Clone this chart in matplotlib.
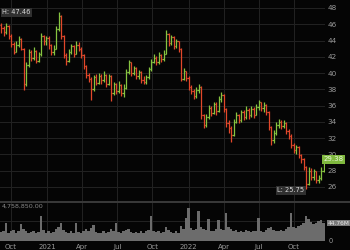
import matplotlib
matplotlib.use("Agg")
import matplotlib.pyplot as plt
import numpy as np

# ---------------- data ----------------
first_open = 45.9
close = [45.5, 45.0, 45.8, 44.6, 43.6, 42.6, 43.5, 44.2, 43.0, 38.6,
         41.0, 42.6, 41.8, 42.7, 41.5, 42.3, 44.6, 43.9, 44.3, 43.4,
         42.6, 43.0, 45.4, 47.0, 44.6, 42.2, 41.5, 42.6, 43.3, 42.4,
         43.5, 43.0, 42.2, 40.9, 39.8, 39.3, 38.0, 39.5, 38.8, 39.6,
         39.1, 39.8, 38.7, 39.6, 37.5, 38.6, 37.8, 38.5, 37.6, 38.2,
         40.1, 41.3, 40.0, 40.6, 39.6, 40.1, 39.2, 38.9, 39.5, 40.5,
         41.4, 41.9, 41.3, 42.2, 41.7, 42.4, 44.8, 43.7, 44.4, 43.3,
         43.9, 43.0, 39.3, 40.2, 39.4, 38.3, 37.8, 37.2, 37.9, 38.3,
         34.8, 33.6, 34.6, 35.7, 35.1, 36.2, 35.3, 36.8, 37.3, 35.6,
         33.8, 33.2, 32.4, 34.0, 34.8, 34.2, 35.2, 34.6, 35.5, 34.8,
         35.6, 34.9, 35.8, 36.4, 35.7, 36.1, 35.2, 33.4, 31.8, 32.6,
         33.6, 34.0, 33.5, 33.9, 32.9, 32.3, 31.2, 30.6, 30.9, 29.9,
         29.4, 28.5, 26.4, 28.0, 27.2, 27.9, 26.9, 27.1, 28.0, 29.38]
high = [46.1, 45.8, 46.2, 45.9, 44.8, 43.8, 43.9, 44.6, 44.3, 43.1,
        41.3, 43.0, 42.8, 43.2, 42.8, 42.6, 44.9, 44.7, 44.6, 44.5,
        43.6, 43.4, 45.8, 47.46, 47.1, 44.7, 42.5, 42.9, 43.6, 43.5,
        43.9, 43.8, 43.2, 42.3, 41.0, 40.0, 39.5, 39.8, 39.9, 40.0,
        39.9, 40.2, 39.9, 39.9, 39.7, 38.9, 38.8, 39.0, 38.7, 38.6,
        40.5, 41.6, 41.4, 40.9, 40.7, 40.4, 40.2, 39.6, 39.8, 40.8,
        41.7, 42.3, 42.1, 42.6, 42.4, 42.8, 45.3, 44.9, 44.7, 44.5,
        44.2, 44.0, 43.1, 40.6, 40.3, 39.6, 38.5, 38.0, 38.3, 38.6,
        38.4, 35.0, 35.0, 36.1, 35.9, 36.5, 36.4, 37.2, 37.7, 37.4,
        35.7, 34.2, 33.5, 34.4, 35.2, 35.0, 35.5, 35.4, 35.9, 35.7,
        36.0, 35.8, 36.2, 36.7, 36.5, 36.4, 36.2, 35.3, 33.5, 33.0,
        34.0, 34.4, 34.2, 34.2, 34.0, 33.1, 32.5, 31.4, 31.2, 31.0,
        30.1, 29.5, 28.6, 28.4, 28.3, 28.2, 28.0, 27.5, 28.4, 29.6]
low = [44.9, 44.6, 44.8, 44.2, 43.2, 42.3, 42.6, 43.2, 42.8, 37.9,
       38.4, 40.8, 41.5, 41.6, 41.2, 41.3, 42.1, 43.5, 43.4, 43.0,
       42.2, 42.2, 42.9, 45.2, 44.2, 41.8, 41.0, 41.3, 42.4, 42.0,
       42.3, 42.7, 41.8, 40.5, 39.4, 38.9, 36.7, 37.8, 38.5, 38.6,
       38.7, 38.9, 38.3, 38.5, 36.6, 37.3, 37.4, 37.5, 37.2, 37.1,
       38.0, 39.9, 39.6, 39.8, 39.3, 39.3, 38.8, 38.6, 38.7, 39.3,
       40.3, 41.2, 41.0, 41.1, 41.3, 41.5, 42.3, 43.3, 43.5, 43.0,
       43.1, 42.6, 39.0, 39.1, 39.0, 37.9, 37.4, 36.8, 36.9, 37.5,
       34.4, 33.2, 33.4, 34.4, 34.7, 35.0, 34.9, 35.2, 36.5, 35.2,
       33.4, 32.6, 31.5, 32.2, 33.8, 33.9, 34.0, 34.2, 34.4, 34.4,
       34.6, 34.5, 34.8, 35.5, 35.3, 35.2, 34.9, 33.0, 31.2, 31.4,
       32.4, 33.3, 33.1, 33.2, 32.5, 31.9, 30.8, 30.2, 30.0, 29.5,
       28.9, 28.1, 25.75, 26.2, 26.9, 26.8, 26.5, 26.5, 26.9, 27.8]
volume_m = [22, 25, 44, 20, 24, 27, 21, 26, 42, 30,
            24, 20, 23, 26, 19, 22, 62, 27, 21, 24,
            20, 23, 30, 34, 45, 28, 22, 19, 25, 21,
            44, 23, 20, 26, 30, 24, 33, 40, 22, 19,
            21, 25, 20, 23, 29, 24, 45, 22, 20, 24,
            27, 30, 22, 19, 23, 21, 25, 20, 24, 28,
            62, 26, 22, 24, 20, 23, 35, 27, 22, 21,
            24, 20, 38, 30, 57, 82, 33, 28, 31, 74,
            36, 30, 28, 55, 26, 24, 30, 52, 29, 27,
            70, 34, 30, 25, 27, 23, 26, 22, 28, 24,
            23, 26, 25, 57, 24, 22, 27, 33, 35, 28,
            26, 24, 28, 25, 30, 34, 70, 36, 32, 38,
            40, 45, 62, 55, 48, 42, 46, 50, 52, 44.76]
price_ticks = [26, 28, 30, 32, 34, 36, 38, 40, 42, 44, 46, 48]
time_tick_pos = [4, 18.5, 32.5, 46.5, 60.5, 75, 89, 103, 117]
time_tick_labels = ["Oct", "2021", "Apr", "Jul", "Oct", "2022", "Apr", "Jul", "Oct"]
vol_header = "4,758,850.00"

# ---------------- style ----------------
BG = "#050505"
GRID = "#222222"
TXT = "#9a9a9a"
UP = "#86c440"
DOWN = "#e2472a"

W, H = 350, 250
fig = plt.figure(figsize=(3.5, 2.5), dpi=100, facecolor=BG)

def px_axes(left, top, right, bottom):
    return fig.add_axes([left / W, 1 - bottom / H, (right - left) / W, (bottom - top) / H])

ax = px_axes(0, 0, 325, 201)
axv = px_axes(0, 203, 325, 241)
for a in (ax, axv):
    a.set_facecolor(BG)
    for s in a.spines.values():
        s.set_visible(False)

n = len(close)
x = np.arange(n)
opens = [first_open] + close[:-1]
cols = [UP if c >= o else DOWN for o, c in zip(opens, close)]

ax.vlines(x, low, high, colors=cols, linewidth=0.9)
ax.hlines(opens, x - 0.45, x, colors=cols, linewidth=0.9)
ax.hlines(close, x, x + 0.45, colors=cols, linewidth=0.9)

ax.set_xlim(-0.4, n - 0.4)
ax.set_ylim(24.27, 48.98)
ax.set_yticks(price_ticks)
ax.yaxis.tick_right()
ax.tick_params(axis="y", length=0, pad=2, labelsize=5.2, labelcolor=TXT)
ax.set_xticks(time_tick_pos)
ax.tick_params(axis="x", length=0, labelbottom=False)
ax.grid(True, color=GRID, linewidth=0.7)
ax.set_axisbelow(True)

# high / low / last labels
imin = int(np.argmin(low))
ax.text(2 / 325, max(high), f"H: {max(high):.2f}", transform=ax.get_yaxis_transform(),
        ha="left", va="center", fontsize=4.8, color="#d8d8d8",
        bbox=dict(boxstyle="square,pad=0.2", fc="#303030", ec="none"))
ax.text(imin - 0.6, min(low) - 0.15, f"L: {min(low):.2f}", ha="right", va="center",
        fontsize=4.8, color="#d8d8d8",
        bbox=dict(boxstyle="square,pad=0.2", fc="#303030", ec="none"))
ax.text(0.995, close[-1], f"{close[-1]:.2f}", transform=ax.get_yaxis_transform(),
        ha="left", va="center", fontsize=5, color="#eaf6dc", clip_on=False,
        bbox=dict(boxstyle="square,pad=0.2", fc="#7fb83e", ec="none"))

# volume pane
axv.bar(x, volume_m, width=1.0, color="#6c6c6c", linewidth=0)
axv.set_xlim(-0.4, n - 0.4)
axv.set_ylim(0, 95)
axv.set_yticks([50])
axv.tick_params(axis="y", length=0, labelleft=False)
axv.set_xticks(time_tick_pos)
axv.set_xticklabels(time_tick_labels)
axv.tick_params(axis="x", length=0, pad=2.5, labelsize=5, labelcolor=TXT)
axv.grid(True, color=GRID, linewidth=0.7)
axv.set_axisbelow(True)
axv.text(1.012, 0, "0", transform=axv.get_yaxis_transform(), ha="left", va="center",
         fontsize=4.8, color=TXT, clip_on=False)
axv.text(1.008, volume_m[-1], f"{volume_m[-1]:.2f}M", transform=axv.get_yaxis_transform(),
         ha="left", va="center", fontsize=4.2, color="#e8e8e8", clip_on=False,
         bbox=dict(boxstyle="square,pad=0.15", fc="#7a7a7a", ec="none"))

# separator line and volume header
fig.add_artist(plt.Line2D([0, 1], [1 - 202 / H, 1 - 202 / H], color="#3a3a3a", linewidth=1.4))
fig.text(0.004, 1 - 206.5 / H, vol_header, ha="left", va="center", fontsize=4.6, color="#8a8a8a")

fig.savefig("out.png", dpi=100, facecolor=BG)
